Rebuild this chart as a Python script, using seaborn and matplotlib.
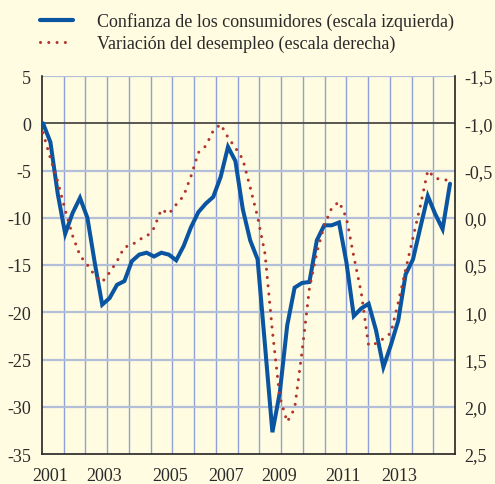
import numpy as np
import pandas as pd
import matplotlib
matplotlib.use("Agg")
import matplotlib.pyplot as plt
from matplotlib.lines import Line2D
import seaborn as sns

sns.set_style("white")
plt.rcParams["font.family"] = ["Liberation Serif", "DejaVu Serif"]

# ---- data (quarterly, 2001Q1 - 2014Q4) ----
quarters = pd.period_range("2001Q1", "2014Q4", freq="Q")
confianza = [0.0, -2.0, -7.5, -11.7, -9.5, -7.9, -10.0, -14.8, -19.2, -18.5,
             -17.1, -16.7, -14.6, -13.9, -13.7, -14.1, -13.7, -13.9, -14.5, -13.0,
             -11.0, -9.4, -8.5, -7.8, -5.7, -2.5, -4.0, -9.1, -12.4, -14.4,
             -23.5, -32.7, -28.5, -21.4, -17.4, -16.9, -16.8, -12.4, -10.8, -10.8,
             -10.5, -14.7, -20.4, -19.6, -19.1, -21.9, -25.8, -23.5, -20.9, -16.0,
             -14.4, -11.0, -7.7, -9.6, -11.2, -6.4]
desempleo = [-0.90, -0.63, -0.38, -0.08, 0.19, 0.40, 0.50, 0.61, 0.68, 0.58,
             0.46, 0.31, 0.29, 0.23, 0.20, 0.11, -0.09, -0.04, -0.14, -0.23,
             -0.44, -0.69, -0.76, -0.92, -0.99, -0.85, -0.74, -0.62, -0.32, -0.01,
             0.38, 1.20, 1.90, 2.16, 2.02, 1.42, 0.75, 0.37, 0.08, -0.10,
             -0.17, 0.00, 0.41, 0.79, 1.35, 1.33, 1.28, 1.22, 0.90, 0.55,
             0.21, -0.13, -0.50, -0.42, -0.40, -0.40]

left_ticks = [5, 0, -5, -10, -15, -20, -25, -30, -35]
right_ticks = [-1.5, -1.0, -0.5, 0.0, 0.5, 1.0, 1.5, 2.0, 2.5]
year_labels = ["2001", "2003", "2005", "2007", "2009", "2011", "2013"]

label_pos = [2001.24, 2003.08, 2005.29, 2007.18, 2008.97, 2011.15, 2013.05]

df = pd.DataFrame({
    "t": quarters.year + (quarters.quarter - 1) / 4.0,
    "confianza": confianza,
    "desempleo": desempleo,
})

BG = "#FFFCE1"
BLUE = "#0A55A2"
RED = "#B0352C"
TXT = "#2a2a2a"
DOTS = (0, (0.01, 2.7))

fig = plt.figure(figsize=(4.95, 4.85), dpi=100, facecolor=BG)
ax = fig.add_axes([42 / 495, 1 - 455 / 485, 413 / 495, 378 / 485])
ax.set_facecolor(BG)

x0 = 2001 - 1.0 / 29.6
x1 = 2001 + (455 - 43) / 29.6
ax.set_xlim(x0, x1)
ax.set_ylim(-35, 5)

# grid
grid_x = np.linspace(x0, x1, 20)
ax.set_xticks(grid_x)
ax.set_xticklabels([""] * len(grid_x))
ax.set_xticks(label_pos, minor=True)
ax.set_xticklabels(year_labels, minor=True)
ax.tick_params(axis="x", which="major", direction="out", length=4.5, width=1.0,
               color="#222222")
ax.tick_params(axis="x", which="minor", length=0, pad=9.5, labelsize=13,
               labelcolor=TXT)
for gx in grid_x[1:-1]:
    ax.axvline(gx, color="#8FA1D6", lw=1.0, zorder=0)
for gy in [5, -5, -10, -15, -20, -25, -30]:
    ax.axhline(gy, color="#B3BED9", lw=1.6, zorder=0)
ax.axhline(0, color="#4a4a4a", lw=1.3, zorder=1)

ax.set_yticks(left_ticks)
ax.set_yticklabels([str(v) for v in left_ticks])
ax.tick_params(axis="y", length=0, pad=8, labelsize=13, labelcolor=TXT)

for s in ["top", "right"]:
    ax.spines[s].set_visible(False)
for s in ["left", "bottom"]:
    ax.spines[s].set_color("#222222")
    ax.spines[s].set_linewidth(1.2)

sns.lineplot(data=df, x="t", y="confianza", ax=ax, color=BLUE, lw=2.9,
             solid_joinstyle="miter", zorder=3)
ax.set_xlabel("")
ax.set_ylabel("")

ax2 = ax.twinx()
ax2.set_ylim(2.5, -1.5)
sns.lineplot(data=df, x="t", y="desempleo", ax=ax2, color=RED, lw=2.2, zorder=4)
for ln in ax2.get_lines():
    ln.set_linestyle(DOTS)
    ln.set_dash_capstyle("round")
ax2.set_xlim(x0, x1)
ax2.set_ylabel("")
ax2.set_xlabel("")
ax2.set_yticks(right_ticks)
ax2.set_yticklabels([f"{v:.1f}".replace(".", ",") for v in right_ticks])
ax2.tick_params(axis="y", length=0, pad=7, labelsize=13, labelcolor=TXT)
for s in ["top", "left", "bottom"]:
    ax2.spines[s].set_visible(False)
ax2.spines["right"].set_color("#222222")
ax2.spines["right"].set_linewidth(1.2)

h1 = Line2D([], [], color=BLUE, lw=3.0)
h2 = Line2D([], [], color=RED, lw=2.2, linestyle=DOTS, dash_capstyle="round")
leg = fig.legend([h1, h2],
                 ["Confianza de los consumidores (escala izquierda)",
                  "Variación del desempleo (escala derecha)"],
                 loc="upper left", bbox_to_anchor=(33 / 495, 1 - 6 / 485),
                 frameon=False, fontsize=13, handlelength=1.8,
                 handletextpad=1.35, labelspacing=0.25, borderaxespad=0,
                 labelcolor=TXT)

fig.savefig("out.png", dpi=100, facecolor=BG)
